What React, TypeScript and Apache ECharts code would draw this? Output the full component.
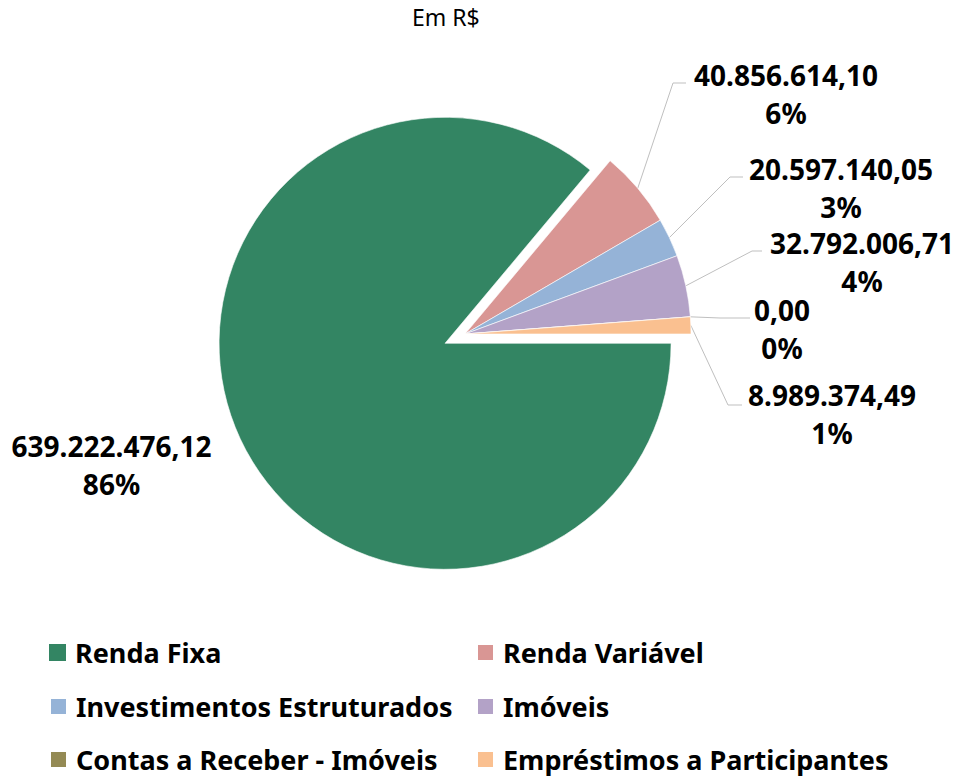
import React, { useEffect, useRef } from "react";
import * as echarts from "echarts";

// ---- data ----
const categories = [
  "Renda Fixa",
  "Renda Variável",
  "Investimentos Estruturados",
  "Imóveis",
  "Contas a Receber - Imóveis",
  "Empréstimos a Participantes",
];
const values = [639222476.12, 40856614.1, 20597140.05, 32792006.71, 0.0, 8989374.49];
const titleText = "Em R$";

// ---- styling / layout ----
const colors = ["#338563", "#D99694", "#95B3D7", "#B3A2C7", "#948A54", "#FAC090"];
const explodedIndex = 0;
const explodeOffset = 22;
const pieCenter = [465, 334];
const pieRadius = 226;
// label centre positions (x, y) per slice
const labelPos: number[][] = [
  [111.5, 465],
  [786, 94],
  [841, 187.5],
  [862, 261.5],
  [782, 329],
  [832, 414],
];
// leader lines: [elbowX, elbowY, endX] (null = no line)
const leaderPts: (number[] | null)[] = [
  null,
  [673, 83, 686],
  [730, 177, 743],
  [752, 251, 762],
  [720, 318, 750],
  [728, 405, 742],
];
// legend layout: [left, centreY] per category
const legendPos: number[][] = [
  [49, 649],
  [476, 649],
  [49, 703],
  [476, 703],
  [49, 756],
  [476, 756],
];

function fmtBR(v: number): string {
  const [i, d] = v.toFixed(2).split(".");
  return i.replace(/\B(?=(\d{3})+(?!\d))/g, ".") + "," + d;
}

const FONT = "'Noto Sans', 'Open Sans', sans-serif";
const TRANSPARENT = "rgba(0,0,0,0)";

export default function App() {
  const ref = useRef<HTMLDivElement>(null);
  useEffect(() => {
    if (!ref.current) return;
    const chart = echarts.init(ref.current, undefined, { renderer: "svg" });

    const total = values.reduce((a, b) => a + b, 0);
    // angular middle of the exploded slice (clockwise from 3 o'clock)
    let before = 0;
    for (let i = 0; i < explodedIndex; i++) before += values[i];
    const midDeg = ((before + values[explodedIndex] / 2) / total) * 360;
    const midRad = (midDeg * Math.PI) / 180;
    const explodedCenter = [
      pieCenter[0] + explodeOffset * Math.cos(midRad),
      pieCenter[1] + explodeOffset * Math.sin(midRad),
    ];

    const labelStyle = {
      show: true,
      position: "outside",
      fontFamily: FONT,
      fontSize: 28,
      fontWeight: "bold",
      color: "#000",
      lineHeight: 38,
      align: "center",
      formatter: (p: any) => `${fmtBR(p.value)}\n${Math.round((p.value / total) * 100)}%`,
    };
    const makeLayout = (params: any) => {
      const i = params.dataIndex;
      const [x, y] = labelPos[i];
      const res: any = { x, y, align: "center", verticalAlign: "middle" };
      const lp = leaderPts[i];
      const p0 = params.labelLinePoints && params.labelLinePoints[0];
      if (lp && p0) {
        res.labelLinePoints = [[p0[0], p0[1]], [lp[0], lp[1]], [lp[2], lp[1]]];
      }
      return res;
    };

    // main pie: every slice except the exploded one
    const mainData = categories.map((name, i) => {
      const hidden = i === explodedIndex;
      return {
        name,
        value: values[i],
        itemStyle: hidden
          ? { color: TRANSPARENT, borderWidth: 0 }
          : { color: colors[i], borderColor: "#ffffff", borderWidth: 0.6 },
        label: { show: !hidden },
        labelLine: { show: !hidden && leaderPts[i] !== null },
      };
    });
    // exploded slice, drawn from a shifted centre
    const explodedData = categories.map((name, i) => {
      const shown = i === explodedIndex;
      return {
        name,
        value: values[i],
        itemStyle: shown
          ? { color: colors[i], borderColor: "#ffffff", borderWidth: 0.6 }
          : { color: TRANSPARENT, borderWidth: 0 },
        label: { show: shown },
        labelLine: { show: false },
      };
    });

    const legends = categories.map((name, i) => ({
      orient: "horizontal" as const,
      left: legendPos[i][0],
      top: legendPos[i][1] - 10,
      padding: 0,
      itemWidth: 17,
      itemHeight: 17,
      icon: "rect",
      selectedMode: false,
      data: [{ name, itemStyle: { color: colors[i] } }],
      textStyle: {
        fontFamily: FONT,
        fontSize: 27,
        fontWeight: "bold" as const,
        color: "#000",
        lineHeight: 20,
        padding: [0, 0, 0, 4],
      },
    }));

    chart.setOption({
      animation: false,
      title: {
        text: titleText,
        left: 412,
        top: 5,
        padding: 0,
        textStyle: { fontFamily: FONT, fontSize: 23, fontWeight: "normal", color: "#000" },
      },
      legend: legends,
      series: [
        {
          type: "pie",
          name: "main",
          center: pieCenter,
          radius: pieRadius,
          startAngle: 0,
          clockwise: true,
          avoidLabelOverlap: false,
          emphasis: { disabled: true, scale: false },
          label: labelStyle,
          labelLine: { show: true, lineStyle: { color: "#BFBFBF", width: 1 } },
          labelLayout: makeLayout,
          data: mainData,
        },
        {
          type: "pie",
          name: "exploded",
          center: explodedCenter,
          radius: pieRadius,
          startAngle: 0,
          clockwise: true,
          avoidLabelOverlap: false,
          emphasis: { disabled: true, scale: false },
          label: labelStyle,
          labelLine: { show: false },
          labelLayout: makeLayout,
          data: explodedData,
        },
      ],
    });
    return () => chart.dispose();
  }, []);
  return (
    <div
      ref={ref}
      style={{ position: "absolute", left: 0, top: 0, width: 957, height: 776, background: "#fff" }}
    />
  );
}
